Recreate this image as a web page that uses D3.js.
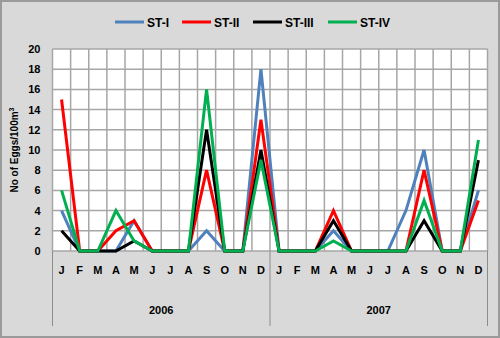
<!DOCTYPE html>
<html>
<head>
<meta charset="utf-8">
<script src="https://cdn.jsdelivr.net/npm/d3@7"></script>
<style>
  body { margin: 0; background: #fff; }
  svg { display: block; }
</style>
</head>
<body>
<div id="chart"></div>
<script>
// Monthly egg density at four stations, 2006-2007
const years = ["2006", "2007"];
const months = ["J", "F", "M", "A", "M", "J", "J", "A", "S", "O", "N", "D"];
const yTicks = [0, 2, 4, 6, 8, 10, 12, 14, 16, 18, 20];

const st1 = [4, 0, 0, 0, 3, 0, 0, 0, 2, 0, 0, 18,  0, 0, 0, 2, 0, 0, 0, 4, 10, 0, 0, 6];
const st2 = [15, 0, 0, 2, 3, 0, 0, 0, 8, 0, 0, 13,  0, 0, 0, 4, 0, 0, 0, 0, 8, 0, 0, 5];
const st3 = [2, 0, 0, 0, 1, 0, 0, 0, 12, 0, 0, 10,  0, 0, 0, 3, 0, 0, 0, 0, 3, 0, 0, 9];
const st4 = [6, 0, 0, 4, 1, 0, 0, 0, 16, 0, 0, 9,  0, 0, 0, 1, 0, 0, 0, 0, 5, 0, 0, 11];

const series = [
  { name: "ST-I", values: st1, color: "#4f81bd" },
  { name: "ST-II", values: st2, color: "#ff0000" },
  { name: "ST-III", values: st3, color: "#000000" },
  { name: "ST-IV", values: st4, color: "#00b050" }
];

const width = 500;
const height = 338;
const margin = { top: 49, right: 12.5, bottom: 87, left: 52.5 };
const font = "'Liberation Sans', Arial, sans-serif";

const svg = d3.select("#chart").append("svg")
  .attr("width", width)
  .attr("height", height)
  .style("font-family", font);

// chart background + border
svg.append("rect")
  .attr("x", 1).attr("y", 1)
  .attr("width", width - 2).attr("height", height - 2)
  .attr("fill", "#d9d9d9")
  .attr("stroke", "#9a9a9a")
  .attr("stroke-width", 2);

// one key per month over both years
const keys = [];
years.forEach(y => months.forEach((m, i) => keys.push(y + "-" + i)));

const x = d3.scaleBand()
  .domain(keys)
  .range([margin.left, width - margin.right]);

const y = d3.scaleLinear()
  .domain([0, 20])
  .range([height - margin.bottom, margin.top]);

const plotBottom = height - margin.bottom;

// plot area
svg.append("rect")
  .attr("x", margin.left).attr("y", margin.top)
  .attr("width", width - margin.left - margin.right)
  .attr("height", plotBottom - margin.top)
  .attr("fill", "#ffffff");

// horizontal gridlines
svg.append("g")
  .selectAll("line")
  .data(yTicks)
  .join("line")
  .attr("x1", margin.left).attr("x2", width - margin.right)
  .attr("y1", d => y(d)).attr("y2", d => y(d))
  .attr("stroke", "#a6a6a6")
  .attr("stroke-width", 1.5);

// vertical gridlines at category boundaries
svg.append("g")
  .selectAll("line")
  .data(keys.concat(["end"]))
  .join("line")
  .attr("x1", d => d === "end" ? x.range()[1] : x(d))
  .attr("x2", d => d === "end" ? x.range()[1] : x(d))
  .attr("y1", margin.top).attr("y2", plotBottom)
  .attr("stroke", "#a6a6a6")
  .attr("stroke-width", 1.5);

// y axis labels
const yAxis = svg.append("g")
  .attr("transform", `translate(${margin.left},0)`)
  .call(d3.axisLeft(y).tickValues(yTicks).tickSize(0).tickPadding(12));
yAxis.select(".domain").remove();
yAxis.selectAll("text")
  .style("font-family", font)
  .style("font-size", "11px")
  .style("font-weight", "bold")
  .attr("fill", "#000");

// x axis: month labels
const xAxis = svg.append("g")
  .attr("transform", `translate(0,${plotBottom})`)
  .call(d3.axisBottom(x).tickSize(0).tickPadding(15).tickFormat(d => months[+d.split("-")[1]]));
xAxis.select(".domain").remove();
xAxis.selectAll("text")
  .style("font-family", font)
  .style("font-size", "11px")
  .style("font-weight", "bold")
  .attr("fill", "#000");

// year group separators
const sepX = [x(years[0] + "-0"), x(years[1] + "-0"), x.range()[1]];
svg.append("g")
  .selectAll("line")
  .data(sepX)
  .join("line")
  .attr("x1", d => d).attr("x2", d => d)
  .attr("y1", plotBottom).attr("y2", 326)
  .attr("stroke", "#8c8c8c")
  .attr("stroke-width", 1);

// year labels
svg.append("g")
  .selectAll("text")
  .data(years)
  .join("text")
  .attr("x", d => (x(d + "-0") + x(d + "-11") + x.bandwidth()) / 2)
  .attr("y", 314)
  .attr("text-anchor", "middle")
  .style("font-size", "11px")
  .style("font-weight", "bold")
  .text(d => d);

// y axis title
const yTitle = svg.append("text")
  .attr("transform", `translate(18,${(margin.top + plotBottom) / 2}) rotate(-90)`)
  .attr("text-anchor", "middle")
  .style("font-size", "10px")
  .style("font-weight", "bold");
yTitle.append("tspan").text("No of Eggs/100m");
yTitle.append("tspan").attr("dy", -4).style("font-size", "7px").text("3");

// lines
const line = d3.line()
  .x((d, i) => x(keys[i]) + x.bandwidth() / 2)
  .y(d => y(d));

svg.append("g")
  .selectAll("path")
  .data(series)
  .join("path")
  .attr("d", d => line(d.values))
  .attr("fill", "none")
  .attr("stroke", d => d.color)
  .attr("stroke-width", 3)
  .attr("stroke-linejoin", "miter");

// legend
const legendItems = [
  { x: 115 }, { x: 182 }, { x: 253 }, { x: 328 }
];
const legend = svg.append("g");
series.forEach((s, i) => {
  const lx = legendItems[i].x;
  legend.append("line")
    .attr("x1", lx).attr("x2", lx + 29)
    .attr("y1", 22).attr("y2", 22)
    .attr("stroke", s.color)
    .attr("stroke-width", 3);
  legend.append("text")
    .attr("x", lx + 32)
    .attr("y", 26.5)
    .style("font-size", "12px")
    .style("font-weight", "bold")
    .text(s.name);
});
</script>
</body>
</html>
